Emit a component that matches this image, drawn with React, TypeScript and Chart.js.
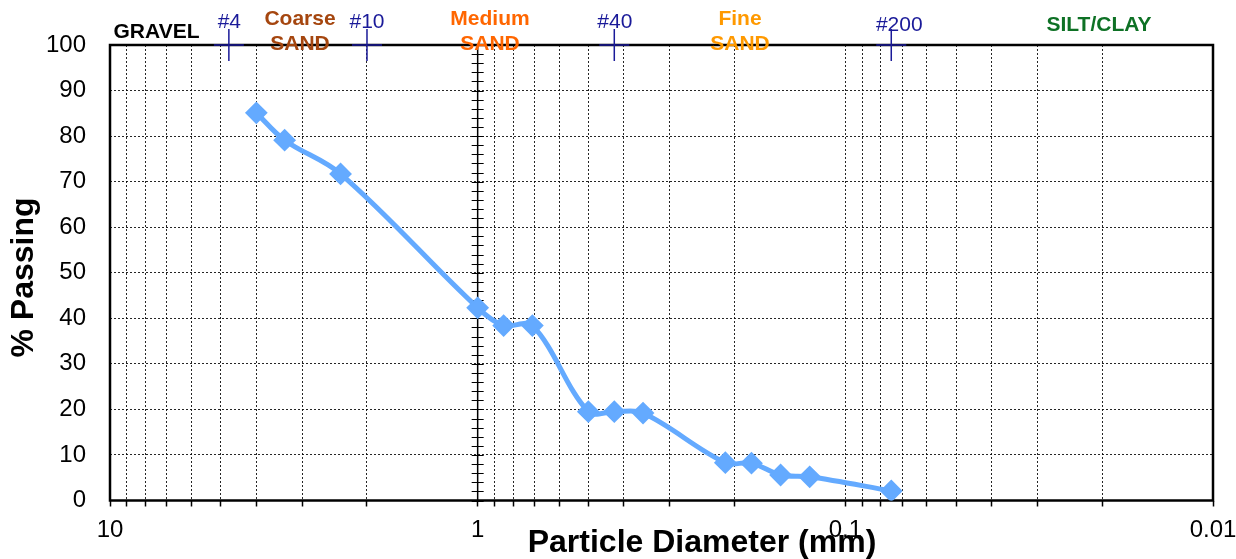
import React, { useEffect, useRef } from "react";
import { Chart, registerables } from "chart.js";

Chart.register(...registerables);

// ---- data ----
const particleDiameters = [4.0, 3.35, 2.36, 1.0, 0.85, 0.71, 0.5, 0.425, 0.355, 0.212, 0.18, 0.15, 0.125, 0.075];
const percentPassing = [85.1, 79.1, 71.7, 42.3, 38.4, 38.4, 19.5, 19.5, 19.2, 8.3, 8.2, 5.6, 5.2, 2.1];

const xGridValues = [
  0.01, 0.02, 0.03, 0.04, 0.05, 0.06, 0.07, 0.08, 0.09,
  0.1, 0.2, 0.3, 0.4, 0.5, 0.6, 0.7, 0.8, 0.9,
  1, 2, 3, 4, 5, 6, 7, 8, 9, 10,
];
const xLabelValues = [10, 1, 0.1, 0.01];
const xLabelTexts = ["10", "1", "0.1", "0.01"];
const yCrossTicks = [0, 2, 4, 6, 8, 10, 12, 14, 16, 18, 20, 22, 24, 26, 28, 30, 32, 34, 36, 38, 40, 42, 44, 46, 48, 50, 52, 54, 56, 58, 60, 62, 64, 66, 68, 70, 72, 74, 76, 78, 80, 82, 84, 86, 88, 90, 92, 94, 96, 98, 100];

const sieveNames = ["#4", "#10", "#40", "#200"];
const sieveSizes = [4.75, 2.0, 0.425, 0.075];

const soilClassLines = [["GRAVEL"], ["Coarse", "SAND"], ["Medium", "SAND"], ["Fine", "SAND"], ["SILT/CLAY"]];
const soilClassColors = ["#000000", "#a5460f", "#ff6600", "#ff9900", "#0e7125"];

const xTitle = "Particle Diameter (mm)";
const yTitle = "% Passing";

// ---- layout (pixels) ----
const soilClassPos = [
  { x: 156.5, y: [38.3] },
  { x: 300, y: [25, 49.5] },
  { x: 490, y: [25, 49.5] },
  { x: 740, y: [25, 49.5] },
  { x: 1099, y: [30.7] },
];
const sieveLabelDx = [0.5, 0, 0.5, 8];
const sieveLabelBaseline = [28.3, 28.3, 28.3, 30.7];

const FONT = "'Liberation Sans', Arial, sans-serif";
const NAVY = "#1a1a99";
const LINE_BLUE = "#64aaff";

export default function App() {
  const ref = useRef<HTMLCanvasElement>(null);

  useEffect(() => {
    const canvas = ref.current;
    if (!canvas) return;

    const decor = {
      id: "decor",
      beforeDatasetsDraw(chart: any) {
        const { ctx, chartArea: a, scales } = chart;
        const x1 = scales.x.getPixelForValue(1);
        ctx.save();
        ctx.strokeStyle = "#000";
        ctx.lineWidth = 1.5;
        ctx.beginPath();
        ctx.moveTo(x1, a.top);
        ctx.lineTo(x1, a.bottom);
        ctx.stroke();
        ctx.lineWidth = 1;
        ctx.beginPath();
        for (const v of yCrossTicks) {
          const y = Math.round(scales.y.getPixelForValue(v)) + 0.5;
          ctx.moveTo(x1 - 6, y);
          ctx.lineTo(x1 + 6, y);
        }
        ctx.stroke();
        ctx.lineWidth = 2.5;
        ctx.strokeRect(a.left, a.top, a.right - a.left, a.bottom - a.top);
        ctx.restore();
      },
      afterDraw(chart: any) {
        const { ctx, chartArea: a, scales } = chart;
        ctx.save();
        // sieve markers
        ctx.strokeStyle = NAVY;
        ctx.lineWidth = 1.5;
        sieveSizes.forEach((s, i) => {
          const x = scales.x.getPixelForValue(s);
          ctx.beginPath();
          ctx.moveTo(x - 15, a.top);
          ctx.lineTo(x + 15, a.top);
          ctx.moveTo(x, a.top - 16);
          ctx.lineTo(x, a.top + 16);
          ctx.stroke();
          ctx.fillStyle = NAVY;
          ctx.font = `21px ${FONT}`;
          ctx.textAlign = "center";
          ctx.textBaseline = "alphabetic";
          ctx.fillText(sieveNames[i], x + sieveLabelDx[i], sieveLabelBaseline[i]);
        });
        // soil classes
        ctx.font = `bold 21px ${FONT}`;
        ctx.textAlign = "center";
        ctx.textBaseline = "alphabetic";
        soilClassLines.forEach((lines, i) => {
          ctx.fillStyle = soilClassColors[i];
          lines.forEach((t, j) => ctx.fillText(t, soilClassPos[i].x, soilClassPos[i].y[j]));
        });
        // axis titles
        ctx.fillStyle = "#000";
        ctx.font = `bold 32px ${FONT}`;
        ctx.fillText(xTitle, 702, 552);
        ctx.translate(33, 277.5);
        ctx.rotate(-Math.PI / 2);
        ctx.fillText(yTitle, 0, 0);
        ctx.restore();
      },
    };

    const chart = new Chart(canvas, {
      type: "line",
      data: {
        datasets: [
          {
            data: particleDiameters.map((d, i) => ({ x: d, y: percentPassing[i] })),
            borderColor: LINE_BLUE,
            backgroundColor: LINE_BLUE,
            borderWidth: 5,
            pointStyle: "rectRot",
            pointRadius: 10,
            pointBorderWidth: 2,
            pointBorderColor: LINE_BLUE,
            pointBackgroundColor: LINE_BLUE,
            tension: 0.35,
            fill: false,
          },
        ],
      },
      options: {
        animation: false,
        responsive: false,
        devicePixelRatio: 1,
        layout: { padding: { left: 0, top: 45, right: 23, bottom: 0 } },
        plugins: { legend: { display: false }, tooltip: { enabled: false }, title: { display: false } },
        scales: {
          x: {
            type: "logarithmic",
            reverse: true,
            min: 0.01,
            max: 10,
            afterBuildTicks: (scale: any) => {
              scale.ticks = xGridValues.map((v) => ({ value: v }));
            },
            afterFit: (scale: any) => {
              scale.height = 58.5;
            },
            ticks: {
              autoSkip: false,
              maxRotation: 0,
              minRotation: 0,
              padding: 9,
              color: "#000",
              font: { family: FONT, size: 24 },
              callback: (value: any) => {
                const idx = xLabelValues.indexOf(Number(value));
                return idx >= 0 ? xLabelTexts[idx] : "";
              },
            },
            grid: {
              color: "rgba(0,0,0,0.85)",
              lineWidth: 1,
              drawTicks: true,
              tickLength: 6,
              tickColor: "#000",
              tickWidth: 1.5,
              tickBorderDash: [],
            },
            border: { display: false, dash: [2, 2] },
          },
          y: {
            type: "linear",
            min: 0,
            max: 100,
            afterFit: (scale: any) => {
              scale.width = 110;
            },
            ticks: {
              stepSize: 10,
              padding: 24,
              color: "#000",
              font: { family: FONT, size: 24 },
            },
            grid: {
              color: "rgba(0,0,0,0.85)",
              lineWidth: 1,
              drawTicks: false,
            },
            border: { display: false, dash: [2, 2] },
          },
        },
      },
      plugins: [decor],
    } as any);

    return () => chart.destroy();
  }, []);

  return (
    <div style={{ position: "absolute", left: 0, top: 0, width: 1236, height: 559, background: "#fff" }}>
      <canvas ref={ref} width={1236} height={559} />
    </div>
  );
}
